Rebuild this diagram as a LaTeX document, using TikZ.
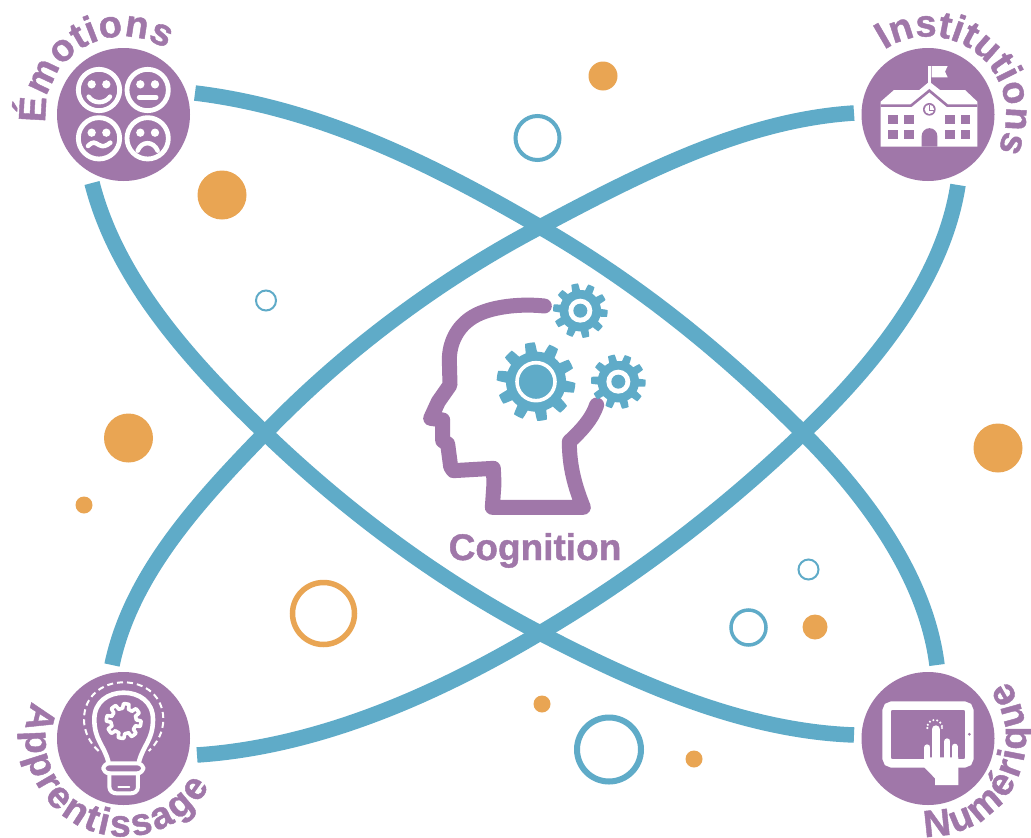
\documentclass[tikz,border=0pt]{standalone}
\usepackage{fontspec}
\setmainfont{Liberation Sans}[BoldFeatures={FakeBold=1.1}]
\usetikzlibrary{decorations.text}
\definecolor{pur}{HTML}{A077A9}
\definecolor{tealb}{HTML}{5FABC8}
\definecolor{ora}{HTML}{E9A553}
\newcommand{\lblfont}{\fontsize{37}{37}\selectfont\bfseries}
\newcommand{\arcfont}{\fontsize{38}{38}\selectfont\bfseries}
% centre x, centre y, root radius, tip radius, teeth, phase
\newcommand{\gearplot}[6]{[shift={(#1,#2)}] plot[domain=0:360,samples=361] (\x:{#3+(#4-#3)*min(1,max(0,0.5+1.6*sin(#5*\x+#6)))}) -- cycle}
\tikzset{
  hub/.style={circle,fill=pur,minimum size=133pt,inner sep=0pt},
  link/.style={draw=tealb,line width=15.5pt,line cap=butt},
  dot/.style={fill=ora},
  ringb/.style={draw=tealb},
  ringo/.style={draw=ora},
  ink/.style={draw=white,line cap=round,line join=round},
  curved/.style={decorate,decoration={text along path,text align={fit to path},text={|\arcfont\color{pur}|#1}}},
}
\begin{document}
\begin{tikzpicture}[x=1pt,y=-1pt]
\useasboundingbox (0,0) rectangle (1031,838);
\fill[white] (0,0) rectangle (1031,838);

% hubs
\node[hub] (emo) at (123.5,114.5) {};
\node[hub] (ins) at (928,114.5) {};
\node[hub] (app) at (123.5,738.5) {};
\node[hub] (num) at (928,738.5) {};

% free ends of the orbits and their crossings
\coordinate (ua) at (195,93);
\coordinate (ub) at (937,665);
\coordinate (la) at (92,183);
\coordinate (lb) at (854,735);
\coordinate (va) at (854,113);
\coordinate (vb) at (112,665);
\coordinate (wa) at (958,185);
\coordinate (wb) at (197,755);
\coordinate (xn) at (540,227);
\coordinate (xe) at (803,433);
\coordinate (xw) at (265,433);
\coordinate (xs) at (540,633);

% orbits
\draw[link] (ua) .. controls (319,108) and (432,164) .. (xn) .. controls (637,283) and (724,353) .. (xe) .. controls (866,496) and (926,577) .. (ub);
\draw[link] (la) .. controls (117,281) and (192,363) .. (xw) .. controls (346,511) and (440,581) .. (xs) .. controls (638,684) and (744,731) .. (lb);
\draw[link] (va) .. controls (743,120) and (638,175) .. (xn) .. controls (439,280) and (344,351) .. (xw) .. controls (200,500) and (131,574) .. (vb);
\draw[link] (wa) .. controls (943,281) and (873,366) .. (xe) .. controls (724,509) and (635,577) .. (xs) .. controls (436,695) and (318,747) .. (wb);

% scattered dots
\fill[dot] (603,76) circle (14.5);
\fill[dot] (222,195) circle (24.5);
\fill[dot] (128.5,438) circle (24.5);
\fill[dot] (84,505) circle (8.5);
\fill[dot] (998,448) circle (24.5);
\fill[dot] (815,627) circle (12.5);
\fill[dot] (542,704) circle (8.5);
\fill[dot] (694,759) circle (8.5);
\draw[ringb,line width=4pt] (537.5,138) circle (22);
\draw[ringb,line width=2pt] (266,300.5) circle (10);
\draw[ringb,line width=2pt] (808.5,569.5) circle (10);
\draw[ringb,line width=3.5pt] (748.5,627.5) circle (17.5);
\draw[ringb,line width=6pt] (609,749.5) circle (32);
\draw[ringo,line width=5.5pt] (323.5,613.5) circle (31);

% curved labels
\path[curved=Émotions] (emo) ++(186:78pt) arc[start angle=186,end angle=57,radius=78pt];
\path[curved=Institutions] (ins) ++(124:78pt) arc[start angle=124,end angle=-27,radius=78pt];
\path[curved=Apprentissage] (app) ++(158:98pt) arc[start angle=158,end angle=331,radius=98pt];
\path[curved=Numérique] (num) ++(268:98pt) arc[start angle=268,end angle=396,radius=98pt];

% emotions icon
\begin{scope}[scale=1/3]
\foreach \c in {(297,270),(443,270),(297,415),(443,415)} \draw[ink,line width=4.8pt] \c circle (62);
\foreach \c in {(275,253),(319,253),(421,253),(465,253),(275,398),(319,398),(421,398),(465,398)} \fill[white] \c circle (12.5);
\draw[ink,line width=4.5pt] (266,290) .. controls (280,312) and (315,312) .. (330,290);
\draw[ink,line width=5pt] (418,292) -- (468,292);
\draw[ink,line width=4.5pt] (264,438) .. controls (280,422) and (285,428) .. (297,435) .. controls (310,442) and (318,438) .. (331,428);
\draw[ink,line width=4.5pt] (413,452) .. controls (425,422) and (460,422) .. (473,452);
\end{scope}

% institutions icon
\begin{scope}[shift={(830,0)},scale=1/3]
\fill[white] (295,197) rectangle (302,250);
\fill[white] (305,198) -- (353,198) -- (345,215) -- (353,232) -- (305,232) -- cycle;
\fill[white] (152,305) -- (192,270) -- (268,270) -- (298,245) -- (330,270) -- (405,270) -- (442,305) -- (442,440) -- (152,440) -- cycle;
\draw[pur,line width=2.6pt] (152,317) -- (243,317) -- (298,272) -- (352,317) -- (442,317);
\fill[pur] (298,328) circle (19);
\fill[white] (298,328) circle (14);
\draw[pur,line width=1pt] (298,315) -- (298,330) -- (312,330);
\foreach \xx in {175,222,345,392} \foreach \yy in {345,390} \fill[pur] (\xx,\yy) rectangle +(29,28);
\fill[pur] (275,440) -- (275,408) arc[start angle=180,end angle=0,radius=23.5pt] -- (322,440) -- cycle;
\end{scope}

% learning icon
\begin{scope}[shift={(0,650)},scale=1/3]
\draw[ink,line width=2pt,dash pattern=on 6pt off 4pt,line cap=butt] (296,303) .. controls (270,280) and (252,245) .. (252,208) .. controls (252,140) and (305,97) .. (371,97) .. controls (437,97) and (490,140) .. (490,208) .. controls (490,245) and (472,280) .. (446,303);
\draw[ink,line width=4.6pt] (325,335) .. controls (312,285) and (283,270) .. (283,208) .. controls (283,155) and (325,128) .. (371,128) .. controls (417,128) and (459,155) .. (459,208) .. controls (459,270) and (430,285) .. (417,335);
\draw[ink,line width=3.6pt,line join=round] \gearplot{371}{213}{38}{52}{8}{20} ;
\draw[ink,line width=4pt,rounded corners=6pt] (310,340) rectangle (430,370);
\draw[ink,line width=4pt] (328,370) -- (328,410) .. controls (328,425) and (340,430) .. (350,430) -- (392,430) .. controls (402,430) and (414,425) .. (414,410) -- (414,370);
\draw[ink,line width=1.8pt] (355,411) -- (388,411);
\end{scope}

% digital icon
\begin{scope}[shift={(830,650)},scale=1/3]
\draw[white,line width=8.5pt,rounded corners=5pt] (170,167) rectangle (418,340);
\fill[pur] (418,253) circle (4.5);
\fill[white] (283,322) -- (385,322) -- (385,405) -- (315,405) -- (315,385) -- (283,352) -- cycle;
\draw[ink,line width=6pt] (292,292) -- (292,330);
\draw[ink,line width=8pt] (317,238) -- (317,330);
\draw[ink,line width=6pt] (352,274) -- (352,330);
\draw[ink,line width=6pt] (374,290) -- (374,330);
\foreach \a in {175,200,230,260,290,320,350,5} \fill[white] (314,232) ++(\a:22) circle (3.6);
\end{scope}

% cognition icon
\begin{scope}[shift={(410,270)},scale=1/3]
\draw[pur,line width=15pt,line cap=round,line join=round]
 (403,108) .. controls (330,100) and (240,110) .. (190,140) .. controls (140,170) and (118,220) .. (118,270) -- (120,345) -- (85,395) -- (62,445) -- (98,450) -- (98,512) -- (113,522) -- (122,590) -- (130,602) -- (250,595) -- (252,640) -- (247,712) -- (520,712) .. controls (495,650) and (478,590) .. (478,515) .. controls (510,485) and (545,450) .. (560,405);
\fill[tealb] \gearplot{378}{335}{90}{118}{10}{0} ;
\draw[white,line width=3.6pt] (378,335) circle (57);
\fill[tealb] \gearplot{511}{122}{62}{82}{10}{30} ;
\fill[white] (511,122) circle (36);
\fill[tealb] (511,122) circle (21);
\fill[tealb] \gearplot{625}{335}{62}{82}{10}{60} ;
\fill[white] (625,335) circle (36);
\fill[tealb] (625,335) circle (21);
\end{scope}

\node[anchor=base,text=pur,inner sep=0pt,font=\lblfont] (cog) at (535,560) {Cognition};
\end{tikzpicture}
\end{document}
